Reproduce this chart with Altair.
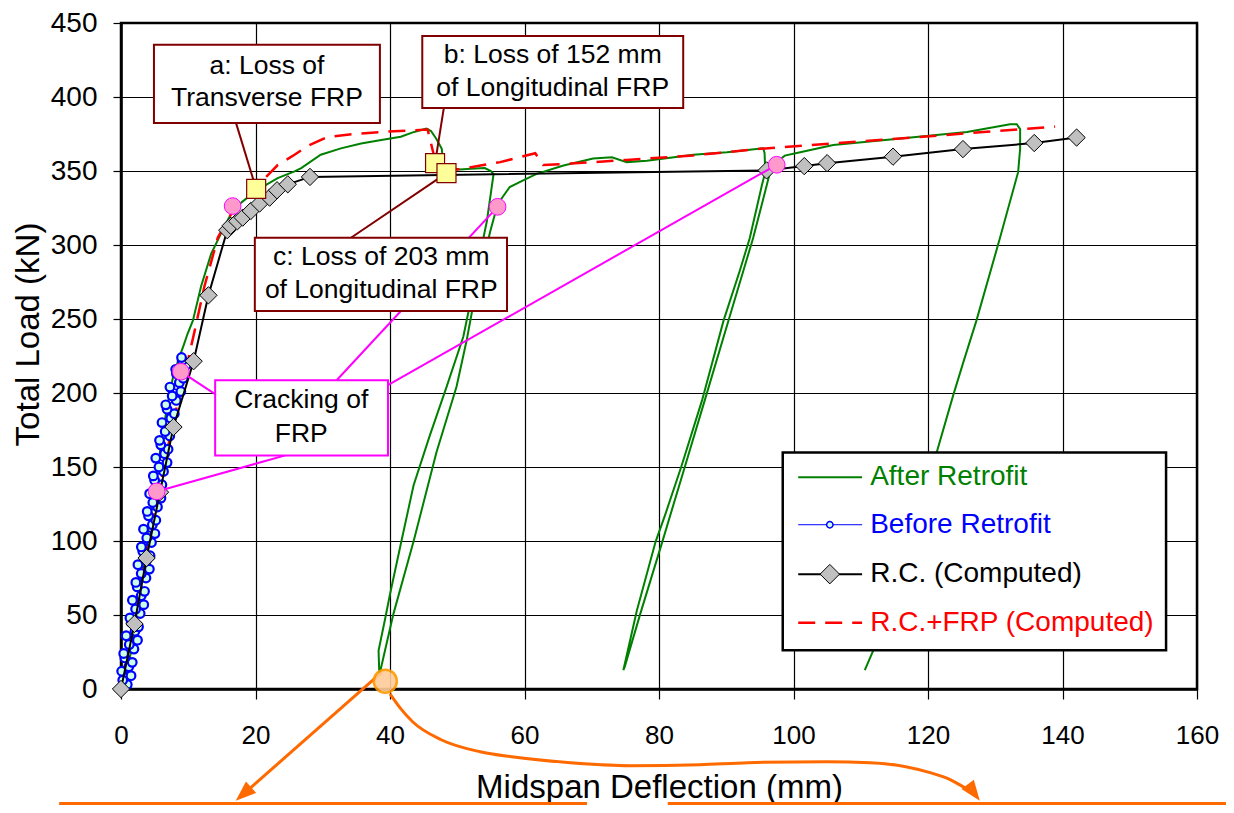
import altair as alt
import pandas as pd

FONT = "Liberation Sans"

# ---------------- data (mm, kN) ----------------
after_x = [0.6, 1.3, 2.1, 2.9, 3.7, 4.5, 5.3, 6.1, 6.9, 7.7, 8.5, 9.3, 9.9, 10.7, 11.9, 13.4, 14.9, 16.0, 16.9, 18.8,
           20.8, 23.3, 25.8, 26.8, 29.7, 32.7, 35.7, 38.7, 41.6, 43.6, 45.4, 46.1, 46.9, 47.7, 47.9, 48.5, 50.4, 52.0, 54.1, 55.0, 55.4,
           54.4, 53.9, 51.9, 50.9, 48.4, 45.9, 43.5, 41.7, 40.0, 39.3, 38.3, 38.4,
           38.6, 40.5, 43.5, 46.9, 49.9, 51.4, 52.4, 54.9, 55.9, 56.6, 57.8, 59.8, 61.8, 65.8, 70.2, 73.0, 75.2, 78.2, 80.2, 85.1, 90.1, 94.5, 95.5,
           95.7, 95.8, 95.3, 93.5, 92.0, 89.6, 86.4, 83.3, 80.9, 79.5, 76.7, 74.7,
           74.9, 77.2, 80.5, 83.6, 86.8, 90.4, 92.7, 94.0, 96.0, 96.5, 97.5, 98.7, 101.0, 105.9, 114.8, 125.8, 132.2, 133.2, 133.7, 133.7,
           133.4, 130.7, 127.2, 125.2, 123.7, 121.3, 111.8, 110.6]
after_y = [0, 20, 45, 70, 95, 120, 145, 170, 192, 210, 222, 232, 240, 249, 272, 294, 308, 318, 325, 332,
           338.6, 345.2, 349.7, 352, 361, 365.3, 368.6, 371, 373.1, 376.4, 378.7, 377, 371.6, 365, 356, 352, 351, 351.5, 352, 350, 348,
           316, 305, 260, 238, 204, 171, 137.5, 100, 64, 48, 26, 11.6,
           13, 50.6, 99.6, 159.8, 204.4, 235.6, 260.1, 309.1, 325.8, 331.4, 339.2, 343.7, 348.1, 353.7, 358.5, 359.3, 356, 357, 358.1, 360.9, 362.7, 364.9, 365.3,
           362, 349.2, 340.3, 304.7, 282.4, 248.9, 195, 150, 117.5, 99.6, 52.8, 12.7,
           15, 50.6, 99.6, 146.5, 195, 250, 285, 304.7, 340, 349, 356, 360.4, 362.6, 367.5, 371.5, 376.4, 381.6, 381.6, 378.3, 365,
           349.2, 304.7, 248.9, 220, 197.7, 160, 25.4, 12.7]

before_x = [0.05, 0.93, 0.26, 1.49, 0.1, 1.15, 1.67, 0.58, 0.4, 1.92, 1.23, 2.45, 0.77, 2.08, 2.6, 1.52, 1.33, 2.85, 2.17, 3.38,
            1.7, 3.0, 3.5, 2.41, 2.21, 3.71, 3.01, 4.22, 2.52, 3.82, 4.32, 3.23, 3.03, 4.53, 3.83, 5.04, 3.35, 4.66, 5.18, 4.09,
            3.9, 5.42, 4.73, 5.94, 4.26, 5.57, 6.08, 5.0, 4.81, 6.32, 5.64, 6.85, 5.17, 6.49, 7.0, 5.92, 5.73, 7.25, 6.57, 7.78,
            6.1, 7.41, 7.93, 6.85, 6.66, 8.22, 7.61, 8.9, 7.28, 8.67, 9.25, 8.24, 8.13, 9.71, 9.1, 9.0]
before_y = [0, 3, 6, 9, 12, 15, 18, 21, 24, 27, 30, 33, 36, 39, 42, 45, 48, 51, 54, 57,
            60, 63, 66, 69, 72, 75, 78, 81, 84, 87, 90, 93, 96, 99, 102, 105, 108, 111, 114, 117,
            120, 123, 126, 129, 132, 135, 138, 141, 144, 147, 150, 153, 156, 159, 162, 165, 168, 171, 174, 177,
            180, 183, 186, 189, 192, 195, 198, 201, 204, 207, 210, 213, 216, 219, 222, 224]

rc_x = [0, 2.0, 3.8, 5.8, 7.8, 10.8, 13.0, 15.8, 16.3, 17.3, 18.1, 19.3, 20.6, 22.1, 23.2, 24.8, 28.1,
        96.0, 101.6, 105.0, 114.8, 125.2, 135.8, 142.1]
rc_y = [0, 44, 88.5, 133, 177, 221.5, 266, 310, 313, 316, 318.5, 323, 328, 332, 337, 341, 346,
        350.4, 353.3, 355.3, 359.7, 364.8, 368.9, 372.6]

frp_x = [0, 1.9, 3.7, 5.6, 7.6, 9.4, 10.2, 11.0, 12.4, 14.4, 16.5, 18.3, 20.1, 21.8, 23.3, 25.8, 27.8, 30.7, 34.7,
         39.2, 45.6, 46.4, 46.8, 50.0, 56.4, 61.6, 62.8, 66.9, 75.2, 85.1, 95.0, 115.8, 138.9]
frp_y = [0, 44, 88, 133, 177, 212, 227, 243, 272, 305, 322, 331, 339, 347, 354, 361, 367, 373, 375,
         376.5, 378, 363, 356, 351, 356, 362, 354, 355, 357.5, 360.5, 365, 372, 380]

# cracking-of-FRP markers and loss-of-FRP markers
crack_x = [5.3, 8.9, 16.6, 56.0, 97.5]
crack_y = [133.5, 214.4, 326.3, 325.8, 354.2]
loss_x = [20.1, 46.7, 48.4]
loss_y = [337.9, 355.3, 348.6]

# callout boxes
box_x1 = [4.9, 44.8, 19.9, 14.0]
box_x2 = [38.5, 83.6, 57.4, 39.7]
box_y1 = [435.3, 441.3, 304.9, 208.6]
box_y2 = [382.5, 392.5, 255.4, 157.8]
box_stroke = ["#800000", "#800000", "#800000", "#FF00FF"]

box_text = ["a: Loss of", "Transverse FRP", "b: Loss of 152 mm", "of Longitudinal FRP",
            "c: Loss of 203 mm", "of Longitudinal FRP", "Cracking of", "FRP"]
box_text_x = [21.7, 21.7, 64.2, 64.2, 38.7, 38.7, 26.8, 26.8]
box_text_y = [421.2, 399.2, 428.6, 405.9, 291.7, 269.5, 195.2, 172.5]

# leader lines
lead_x1 = [17.1, 48.0, 34.2, 25.1, 14.0, 32.1, 39.75]
lead_y1 = [382.5, 392.5, 304.9, 158.7, 199.2, 208.8, 205.5]
lead_x2 = [20.1, 46.7, 48.4, 5.3, 8.9, 56.0, 97.5]
lead_y2 = [337.9, 355.3, 348.6, 133.5, 214.4, 325.8, 354.2]
lead_color = ["#800000", "#800000", "#800000", "#FF00FF", "#FF00FF", "#FF00FF", "#FF00FF"]

# legend
leg_labels = ["After Retrofit", "Before Retrofit", "R.C. (Computed)", "R.C.+FRP (Computed)"]
leg_colors = ["#008000", "#0000FF", "#000000", "#FF0000"]
leg_y = [143.1, 111.0, 77.6, 44.8]
leg_line_x1 = 100.7
leg_line_x2 = 110.2
leg_marker_x = 105.4
leg_text_x = 111.4
leg_box = dict(x=98.4, x2=155.4, y=159.8, y2=26.1)

# orange pointer annotation below the axis
orange_circle_x = [39.3]
orange_circle_y = [5.3]
straight_x = [38.8, 18.2]
straight_y = [11.4, -71.0]
curve_x = [40.0, 41.5, 43.4, 47.6, 53.4, 58.1, 66.8, 75.7, 86.1, 93.2, 105.0, 111.4, 116.7, 120.3, 123.3, 125.7, 126.8]
curve_y = [-3.3, -12.8, -22.3, -34.3, -42.4, -45.8, -49.8, -51.8, -51.1, -49.8, -49.1, -49.8, -52.5, -56.5, -61.2, -67.3, -70.0]
head_x = [18.2, 126.8]
head_y = [-71.0, -70.0]
head_angle = [48.5, 323.6]
hline_x1 = [-9.2, 81.3]
hline_x2 = [69.3, 170.0]
hline_y = [-77.3, -77.3]

# ---------------- chart ----------------
XS = alt.Scale(domain=[0, 160], nice=False, zero=False)
YS = alt.Scale(domain=[0, 450], nice=False, zero=False)
XA = alt.Axis(values=list(range(0, 161, 20)), title="Midspan Deflection (mm)", labelFontSize=26,
              titleFontSize=33, tickSize=10, labelPadding=23, labelFlush=False, labelOverlap=False,
              titleY=108, titleBaseline="alphabetic")
YA = alt.Axis(values=list(range(0, 451, 50)), title="Total Load (kN)", labelFontSize=28,
              titleFontSize=33, tickSize=8, labelPadding=16, labelOverlap=False,
              titleX=-93, titleY=311, titleAngle=270, titleBaseline="middle")


def X(f="x"):
    return alt.X(f + ":Q", scale=XS, axis=XA)


def Y(f="y"):
    return alt.Y(f + ":Q", scale=YS, axis=YA)


def df(**cols):
    return pd.DataFrame(cols)


after_df = df(x=after_x, y=after_y, i=list(range(len(after_x))))
before_df = df(x=before_x, y=before_y, i=list(range(len(before_x))))
rc_df = df(x=rc_x, y=rc_y, i=list(range(len(rc_x))))
frp_df = df(x=frp_x, y=frp_y, i=list(range(len(frp_x))))

green = alt.Chart(after_df).mark_line(color="#008000", strokeWidth=2).encode(x=X(), y=Y(), order="i:Q")
red = alt.Chart(frp_df).mark_line(color="#FF0000", strokeWidth=2.5, strokeDash=[17, 10]).encode(x=X(), y=Y(), order="i:Q")
blue_line = alt.Chart(before_df).mark_line(color="#0000FF", strokeWidth=1.5).encode(x=X(), y=Y(), order="i:Q")
blue_pts = alt.Chart(before_df).mark_point(shape="circle", filled=True, fill="#CCFFE5", stroke="#0000FF",
                                           strokeWidth=2.2, size=75, opacity=1).encode(x=X(), y=Y())
black_line = alt.Chart(rc_df).mark_line(color="black", strokeWidth=2).encode(x=X(), y=Y(), order="i:Q")
diamonds = alt.Chart(rc_df).mark_point(shape="diamond", filled=True, fill="#C0C0C0", stroke="black",
                                       strokeWidth=1, size=300, opacity=1).encode(x=X(), y=Y())

leaders = alt.Chart(df(x=lead_x1, y=lead_y1, x2=lead_x2, y2=lead_y2, c=lead_color)).mark_rule(strokeWidth=2).encode(
    x=X(), y=Y(), x2="x2:Q", y2="y2:Q", color=alt.Color("c:N", scale=None))

boxes = alt.Chart(df(x=box_x1, x2=box_x2, y=box_y1, y2=box_y2, c=box_stroke)).mark_rect(fill="white", strokeWidth=2).encode(
    x=X(), y=Y(), x2="x2:Q", y2="y2:Q", stroke=alt.Stroke("c:N", scale=None))

box_texts = alt.Chart(df(x=box_text_x, y=box_text_y, t=box_text)).mark_text(
    font=FONT, fontSize=26.5, color="black", align="center", baseline="middle").encode(x=X(), y=Y(), text="t:N")

cracks = alt.Chart(df(x=crack_x, y=crack_y)).mark_point(shape="circle", filled=True, fill="#FF99CC", stroke="#FF00FF",
                                                          strokeWidth=1, size=280, opacity=1).encode(x=X(), y=Y())
losses = alt.Chart(df(x=loss_x, y=loss_y)).mark_point(shape="square", filled=True, fill="#FFFF99", stroke="#800000",
                                                        strokeWidth=1.2, size=361, opacity=1).encode(x=X(), y=Y())

# legend
legbox = alt.Chart(df(x=[leg_box["x"]], x2=[leg_box["x2"]], y=[leg_box["y"]], y2=[leg_box["y2"]])).mark_rect(
    fill="white", stroke="black", strokeWidth=2.5).encode(x=X(), y=Y(), x2="x2:Q", y2="y2:Q")
leg_df = df(x=[leg_line_x1] * 4, x2=[leg_line_x2] * 4, y=leg_y, c=leg_colors, t=leg_labels,
            w=[2, 1, 2, 2.5], tx=[leg_text_x] * 4, mx=[leg_marker_x] * 4)
leg_solid = alt.Chart(leg_df.iloc[[0, 1, 2]]).mark_rule().encode(
    x=X(), y=Y(), x2="x2:Q", color=alt.Color("c:N", scale=None), strokeWidth=alt.StrokeWidth("w:Q", scale=None))
leg_dash = alt.Chart(leg_df.iloc[[3]]).mark_rule(strokeDash=[17, 10]).encode(
    x=X(), y=Y(), x2="x2:Q", color=alt.Color("c:N", scale=None), strokeWidth=alt.StrokeWidth("w:Q", scale=None))
leg_circle = alt.Chart(leg_df.iloc[[1]]).mark_point(shape="circle", filled=True, fill="#CCFFE5", stroke="#0000FF",
                                                   strokeWidth=1.5, size=40, opacity=1).encode(x=X("mx"), y=Y())
leg_diamond = alt.Chart(leg_df.iloc[[2]]).mark_point(shape="diamond", filled=True, fill="#C0C0C0", stroke="black",
                                                    strokeWidth=1, size=380, opacity=1).encode(x=X("mx"), y=Y())
leg_text = alt.Chart(leg_df).mark_text(font=FONT, fontSize=28, align="left", baseline="middle").encode(
    x=X("tx"), y=Y(), text="t:N", color=alt.Color("c:N", scale=None))

# orange pointer
o_straight = alt.Chart(df(x=straight_x, y=straight_y, i=[0, 1])).mark_line(color="#FF6A00", strokeWidth=3).encode(
    x=X(), y=Y(), order="i:Q")
o_curve = alt.Chart(df(x=curve_x, y=curve_y, i=list(range(len(curve_x))))).mark_line(
    color="#FF6A00", strokeWidth=3, interpolate="monotone").encode(x=X(), y=Y(), order="i:Q")
o_heads = alt.Chart(df(x=head_x, y=head_y, a=head_angle)).mark_point(
    shape="M0,1L-0.75,-1L0.75,-1Z", filled=True, color="#FF6A00", size=420, opacity=1).encode(
    x=X(), y=Y(), angle=alt.Angle("a:Q", scale=None))
o_hlines = alt.Chart(df(x=hline_x1, x2=hline_x2, y=hline_y)).mark_rule(color="#FF6A00", strokeWidth=3).encode(
    x=X(), y=Y(), x2="x2:Q")
o_circle = alt.Chart(df(x=orange_circle_x, y=orange_circle_y)).mark_point(
    shape="circle", filled=True, fill="#FFCC99", stroke="#FF9900", strokeWidth=2.5, size=531, opacity=0.9).encode(
    x=X(), y=Y())

chart = alt.layer(
    green, red, blue_line, blue_pts, black_line, diamonds,
    leaders, boxes, box_texts, cracks, losses,
    legbox, leg_solid, leg_dash, leg_circle, leg_diamond, leg_text,
    o_straight, o_curve, o_heads, o_hlines, o_circle,
).properties(
    width=1076, height=666,
    padding={"left": 113, "top": 15, "right": 29, "bottom": 116},
    autosize=alt.AutoSizeParams(type="none"),
    background="white",
).configure_view(
    stroke="black", strokeWidth=2.5
).configure_axis(
    grid=True, gridColor="#000000", gridWidth=1.2,
    domainColor="#000000", domainWidth=2.5,
    tickColor="#000000", tickWidth=1.2,
    labelColor="#000000", titleColor="#000000",
    labelFont=FONT, titleFont=FONT, titleFontWeight="normal",
)

chart.save("out.html", embed_options={"renderer": "svg", "actions": False})
